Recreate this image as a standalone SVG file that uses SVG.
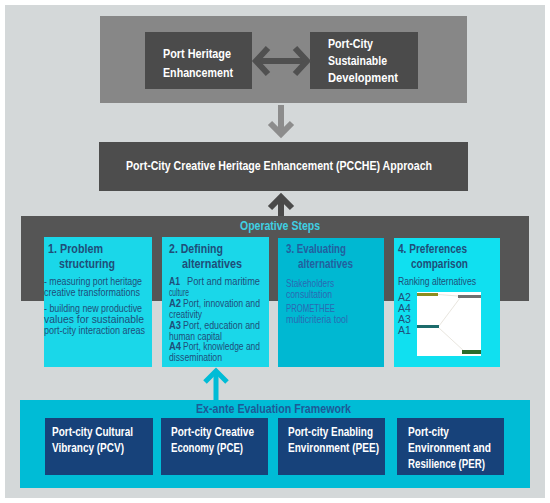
<svg xmlns="http://www.w3.org/2000/svg" width="550" height="503" viewBox="0 0 550 503">
<style>
text{font-family:"Liberation Sans",Arial,sans-serif;}
.w{fill:#fff;font-weight:bold;font-size:12px;}
.t{fill:#1f4e79;font-weight:bold;font-size:13px;}
.b{fill:#1f4e79;font-size:10.5px;}
.bb{fill:#1f4e79;font-size:10.5px;font-weight:bold;}
.t3{fill:#22609f;font-weight:bold;font-size:13px;}
.b3{fill:#2a6ab2;font-size:11px;}
.cy{fill:#3fd0e4;font-weight:bold;font-size:12px;}
.fw{fill:#1d5a96;font-weight:bold;font-size:12px;}
</style>
<rect x="5" y="5" width="540" height="493" fill="#d4d8d9"/>
<g id="top-box">
<rect x="100" y="16" width="367" height="87" fill="#878787"/>
</g>
<g id="port-heritage">
<rect x="145" y="32" width="107" height="57" fill="#4b4b4b"/>
<text class="w" x="163" y="58" textLength="68" lengthAdjust="spacingAndGlyphs">Port Heritage</text>
<text class="w" x="163" y="77" textLength="70" lengthAdjust="spacingAndGlyphs">Enhancement</text>
</g>
<g id="sustainable-dev">
<rect x="310" y="32" width="108" height="57" fill="#4b4b4b"/>
<text class="w" x="328" y="48" textLength="45" lengthAdjust="spacingAndGlyphs">Port-City</text>
<text class="w" x="328" y="65" textLength="59" lengthAdjust="spacingAndGlyphs">Sustainable</text>
<text class="w" x="328" y="82" textLength="70" lengthAdjust="spacingAndGlyphs">Development</text>
</g>
<g id="pcche">
<rect x="99" y="142" width="369" height="49" fill="#4d4d4d"/>
<text class="w" x="126" y="170" textLength="306" lengthAdjust="spacingAndGlyphs">Port-City Creative Heritage Enhancement (PCCHE) Approach</text>
</g>
<g id="operative-steps">
<rect x="21" y="216" width="508" height="85" fill="#555555"/>
<text class="cy" x="240" y="230" textLength="80" lengthAdjust="spacingAndGlyphs">Operative Steps</text>
</g>
<g id="step1">
<rect x="44" y="237" width="108" height="130" fill="#1ad7e9"/>
<text class="t" x="48" y="253" textLength="55" lengthAdjust="spacingAndGlyphs">1. Problem</text>
<text class="t" x="59" y="268" textLength="56" lengthAdjust="spacingAndGlyphs">structuring</text>
<text class="b" x="44" y="285" textLength="98" lengthAdjust="spacingAndGlyphs">- measuring port heritage</text>
<text class="b" x="44" y="296" textLength="96" lengthAdjust="spacingAndGlyphs">creative transformations</text>
<text class="b" x="44" y="312" textLength="98" lengthAdjust="spacingAndGlyphs">- building new productive</text>
<text class="b" x="44" y="323" textLength="100" lengthAdjust="spacingAndGlyphs">values  for  sustainable</text>
<text class="b" x="44" y="334" textLength="101" lengthAdjust="spacingAndGlyphs">port-city interaction areas</text>
</g>
<g id="step2">
<rect x="162" y="237" width="107" height="130" fill="#1ad7e9"/>
<text class="t" x="169" y="253" textLength="54" lengthAdjust="spacingAndGlyphs">2. Defining</text>
<text class="t" x="182" y="268" textLength="60" lengthAdjust="spacingAndGlyphs">alternatives</text>
<text class="bb" x="169" y="285" textLength="11" lengthAdjust="spacingAndGlyphs">A1</text>
<text class="b" x="187" y="285" textLength="73" lengthAdjust="spacingAndGlyphs">Port  and  maritime</text>
<text class="b" x="169" y="295.9" textLength="20" lengthAdjust="spacingAndGlyphs">culture</text>
<text class="bb" x="169" y="306.8" textLength="12" lengthAdjust="spacingAndGlyphs">A2</text>
<text class="b" x="183" y="306.8" textLength="77" lengthAdjust="spacingAndGlyphs">Port, innovation and</text>
<text class="b" x="169" y="317.7" textLength="33" lengthAdjust="spacingAndGlyphs">creativity</text>
<text class="bb" x="169" y="328.6" textLength="12" lengthAdjust="spacingAndGlyphs">A3</text>
<text class="b" x="183" y="328.6" textLength="77" lengthAdjust="spacingAndGlyphs">Port, education and</text>
<text class="b" x="169" y="339.5" textLength="53" lengthAdjust="spacingAndGlyphs">human capital</text>
<text class="bb" x="169" y="350.4" textLength="12" lengthAdjust="spacingAndGlyphs">A4</text>
<text class="b" x="183" y="350.4" textLength="77" lengthAdjust="spacingAndGlyphs">Port, knowledge and</text>
<text class="b" x="169" y="361.3" textLength="53" lengthAdjust="spacingAndGlyphs">dissemination</text>
</g>
<g id="step3">
<rect x="278" y="238" width="106" height="129" fill="#00b8d2"/>
<text class="t3" x="286" y="253" textLength="60" lengthAdjust="spacingAndGlyphs">3. Evaluating</text>
<text class="t3" x="298" y="268" textLength="55" lengthAdjust="spacingAndGlyphs">alternatives</text>
<text class="b3" x="286" y="287" textLength="48" lengthAdjust="spacingAndGlyphs">Stakeholders</text>
<text class="b3" x="286" y="298" textLength="46" lengthAdjust="spacingAndGlyphs">consultation</text>
<text class="b3" x="286" y="312" textLength="49" lengthAdjust="spacingAndGlyphs">PROMETHEE</text>
<text class="b3" x="286" y="323" textLength="62" lengthAdjust="spacingAndGlyphs">multicriteria tool</text>
</g>
<g id="step4">
<rect x="394" y="238" width="106" height="129" fill="#10e0f0"/>
<text class="t" x="398" y="253" textLength="69" lengthAdjust="spacingAndGlyphs">4. Preferences</text>
<text class="t" x="411" y="268" textLength="57" lengthAdjust="spacingAndGlyphs">comparison</text>
<text class="b" x="398" y="285" textLength="78" lengthAdjust="spacingAndGlyphs">Ranking alternatives</text>
<text class="b" x="398" y="301">A2</text>
<text class="b" x="398" y="312">A4</text>
<text class="b" x="398" y="323">A3</text>
<text class="b" x="398" y="334">A1</text>
<rect x="417" y="292" width="64" height="64" fill="#ffffff"/>
<g stroke="#d8d4c8" stroke-width="0.6" fill="none">
<line x1="438" y1="294.5" x2="458" y2="296"/>
<line x1="439" y1="326" x2="460" y2="298"/>
<line x1="439" y1="328" x2="464" y2="351"/>
</g>
<rect x="417" y="293" width="21" height="3" fill="#8c8c1e"/>
<rect x="458" y="295" width="23" height="3" fill="#707070"/>
<rect x="417" y="325" width="22" height="3" fill="#1c6b6b"/>
<rect x="462" y="350" width="19" height="4" fill="#2b6b2b"/>
</g>
<g id="framework">
<rect x="20" y="400" width="510" height="88" fill="#00bcd6"/>
<text class="fw" x="196" y="413" textLength="155" lengthAdjust="spacingAndGlyphs">Ex-ante Evaluation Framework</text>
</g>
<g id="pcv">
<rect x="45" y="418" width="108" height="57" fill="#17427a"/>
<text class="w" x="52" y="436" textLength="81" lengthAdjust="spacingAndGlyphs">Port-city Cultural</text>
<text class="w" x="52" y="452" textLength="72" lengthAdjust="spacingAndGlyphs">Vibrancy (PCV)</text>
</g>
<g id="pce">
<rect x="161" y="418" width="107" height="57" fill="#17427a"/>
<text class="w" x="171" y="436" textLength="83" lengthAdjust="spacingAndGlyphs">Port-city Creative</text>
<text class="w" x="171" y="452" textLength="72" lengthAdjust="spacingAndGlyphs">Economy (PCE)</text>
</g>
<g id="pee">
<rect x="278" y="418" width="107" height="57" fill="#17427a"/>
<text class="w" x="288" y="436" textLength="85" lengthAdjust="spacingAndGlyphs">Port-city Enabling</text>
<text class="w" x="288" y="452" textLength="91" lengthAdjust="spacingAndGlyphs">Environment (PEE)</text>
</g>
<g id="per">
<rect x="397" y="418" width="107" height="57" fill="#17427a"/>
<text class="w" x="408" y="436" textLength="41" lengthAdjust="spacingAndGlyphs">Port-city</text>
<text class="w" x="408" y="452" textLength="83" lengthAdjust="spacingAndGlyphs">Environment and</text>
<text class="w" x="408" y="468" textLength="77" lengthAdjust="spacingAndGlyphs">Resilience (PER)</text>
</g>
<g id="connectors" fill="none" stroke-linecap="butt">
<g stroke="#505050" stroke-width="6">
<line x1="258" y1="61" x2="305" y2="61"/>
<polyline points="268,48 256,61 268,74"/>
<polyline points="295,48 307,61 295,74"/>
</g>
<g stroke="#8c8c8c" stroke-width="6">
<line x1="281" y1="105" x2="281" y2="134"/>
<polyline points="270,123 281,134 292,123"/>
</g>
<g stroke="#4a4a4a" stroke-width="6">
<line x1="281" y1="198" x2="281" y2="216"/>
<polyline points="270,208 281,197 292,208"/>
</g>
<g stroke="#00bcd6" stroke-width="5">
<line x1="216" y1="372" x2="216" y2="400"/>
<polyline points="205,382 216,371 227,382"/>
</g>
</g>
</svg>
